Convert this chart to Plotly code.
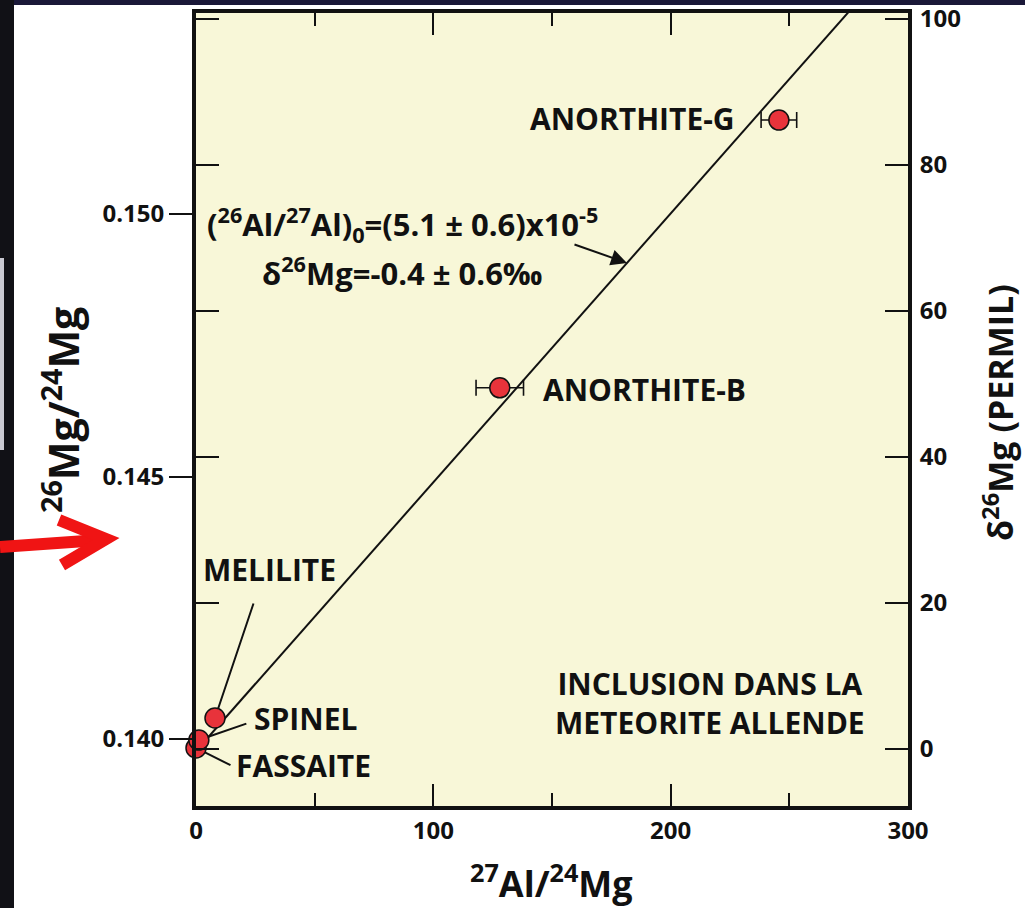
import plotly.graph_objects as go

# ---------------- data ----------------
minerals = ["FASSAITE", "SPINEL", "MELILITE", "ANORTHITE-B", "ANORTHITE-G"]
al_mg = [0.0, 1.2, 8.0, 128.0, 245.6]            # 27Al/24Mg
mg_ratio = [0.13983, 0.13998, 0.14040, 0.14669, 0.15179]  # 26Mg/24Mg
al_mg_err = [0, 0, 0, 10.0, 7.5]

fit_slope = 5.12e-5
fit_intercept = 0.13977
fit_x = [0, 300]

x_tickvals = [0, 100, 200, 300]
x_minor_ticks = [50, 150, 250]
y_tickvals = [0.140, 0.145, 0.150]
y_ticktext = ["0.140", "0.145", "0.150"]
delta_tickvals = [0, 20, 40, 60, 80, 100]

x_range = [0, 300]
y_range = [0.138724, 0.153829]
delta_range = [-7.8, 100.8]

formula_1 = "(<sup>26</sup>Al/<sup>27</sup>Al)<sub>0</sub>=(5.1 ± 0.6)x10<sup>-5</sup>"
formula_2 = "δ<sup>26</sup>Mg=-0.4 ± 0.6‰"
inclusion_text = "INCLUSION DANS LA<br>METEORITE ALLENDE"

# ---------------- geometry helpers (pixel -> paper) ----------------
W, H = 1025, 908
L, R, T, B = 196, 908, 13, 806


def px(xp):
    return (xp - L) / (R - L)


def py(yp):
    return (B - yp) / (B - T)


FONT = "Open Sans"
BLACK = "#111111"

fig = go.Figure()

# regression line
fit_y = [fit_intercept + fit_slope * v for v in fit_x]
fig.add_trace(go.Scatter(x=fit_x, y=fit_y, mode="lines",
                         line=dict(color=BLACK, width=2),
                         hoverinfo="skip", showlegend=False))

# data points
fig.add_trace(go.Scatter(
    x=al_mg, y=mg_ratio, mode="markers", text=minerals,
    marker=dict(size=20, color="#e8333b", line=dict(color=BLACK, width=1.5)),
    error_x=dict(type="data", array=al_mg_err, visible=True,
                 color=BLACK, thickness=1.6, width=8),
    cliponaxis=False, showlegend=False))

# invisible trace to hold the right axis
fig.add_trace(go.Scatter(x=[150], y=[50], yaxis="y2", mode="markers",
                         marker=dict(opacity=0), hoverinfo="skip",
                         showlegend=False))

tickfont = dict(family=FONT, size=24, color=BLACK, weight=700)

fig.update_layout(
    width=W, height=H,
    margin=dict(l=L, r=W - R, t=T, b=H - B, pad=0, autoexpand=False),
    paper_bgcolor="white",
    plot_bgcolor="#f8f7d8",
    showlegend=False,
    xaxis=dict(range=x_range, tickvals=x_tickvals,
               ticktext=[str(v) for v in x_tickvals],
               ticks="inside", ticklen=22, tickwidth=2, tickcolor=BLACK,
               minor=dict(tickvals=x_minor_ticks, ticks="inside", ticklen=13,
                          tickwidth=2, tickcolor=BLACK),
               showline=True, linewidth=4, linecolor=BLACK, mirror="ticks",
               showgrid=False, zeroline=False, tickfont=tickfont,
               ticklabelstandoff=0, automargin=False),
    yaxis=dict(range=y_range, tickvals=y_tickvals, ticktext=y_ticktext,
               ticks="outside", ticklen=23, tickwidth=2, tickcolor=BLACK,
               showline=True, linewidth=4, linecolor=BLACK, mirror=False,
               showgrid=False, zeroline=False, tickfont=tickfont,
               ticklabelstandoff=0, automargin=False),
    yaxis2=dict(range=delta_range, tickvals=delta_tickvals,
                overlaying="y", side="right",
                ticks="inside", ticklen=23, tickwidth=2, tickcolor=BLACK,
                showline=True, linewidth=4, linecolor=BLACK, mirror="ticks",
                showgrid=False, zeroline=False, tickfont=tickfont,
                ticklabelstandoff=3, automargin=False),
)

annotations = []


def label(text, x, y, xanchor="left", size=30):
    annotations.append(dict(text=text, x=x, y=y, xref="x", yref="y",
                            xanchor=xanchor, yanchor="middle", showarrow=False,
                            font=dict(family=FONT, size=size, color=BLACK,
                                      weight=700)))


def ydat(yp):
    return 0.150 - (yp - 214) / 52500.0


def xdat(xp):
    return (xp - L) * 300.0 / (R - L)


label("ANORTHITE-G", xdat(737), ydat(118), xanchor="right")
label("ANORTHITE-B", xdat(541), ydat(389))
label("MELILITE", xdat(201), ydat(569))
label("SPINEL", xdat(252), ydat(718))
label("FASSAITE", xdat(234), ydat(765))
annotations.append(dict(text=inclusion_text, x=xdat(710), y=ydat(703),
                        xref="x", yref="y", xanchor="center", yanchor="middle",
                        showarrow=False, align="center",
                        font=dict(family=FONT, size=30, color=BLACK, weight=700)))
annotations.append(dict(text=formula_1, x=xdat(402), y=ydat(224),
                        xref="x", yref="y", xanchor="center", yanchor="middle",
                        showarrow=False,
                        font=dict(family=FONT, size=31, color=BLACK, weight=700)))
annotations.append(dict(text=formula_2, x=xdat(402), y=ydat(271),
                        xref="x", yref="y", xanchor="center", yanchor="middle",
                        showarrow=False,
                        font=dict(family=FONT, size=31, color=BLACK, weight=700)))

# leader lines from labels to points
leaders = [(2, 39, -116), (1, 49, -17), (0, 36, 18)]
for idx, axp, ayp in leaders:
    annotations.append(dict(text="", x=al_mg[idx], y=mg_ratio[idx],
                            xref="x", yref="y", ax=axp, ay=ayp,
                            showarrow=True, arrowhead=0, arrowwidth=2,
                            arrowcolor=BLACK, standoff=10,
                            font=dict(size=1)))

# arrow from the formula to the fit line
arrow_x = xdat(627)
annotations.append(dict(text="", x=arrow_x, y=fit_intercept + fit_slope * arrow_x,
                        xref="x", yref="y", ax=-54, ay=-19,
                        showarrow=True, arrowhead=2, arrowsize=1.6,
                        arrowwidth=2, arrowcolor=BLACK, font=dict(size=1)))

# axis titles
annotations.append(dict(text="<sup>26</sup>Mg/<sup>24</sup>Mg",
                        x=px(61), y=py(410), xref="paper", yref="paper",
                        textangle=-90, showarrow=False,
                        xanchor="center", yanchor="middle",
                        font=dict(family=FONT, size=41, color=BLACK, weight=700)))
annotations.append(dict(text="δ<sup>26</sup>Mg (PERMIL)",
                        x=px(998), y=py(413), xref="paper", yref="paper",
                        textangle=-90, showarrow=False,
                        xanchor="center", yanchor="middle",
                        font=dict(family=FONT, size=34, color=BLACK, weight=700)))
annotations.append(dict(text="<sup>27</sup>Al/<sup>24</sup>Mg",
                        x=px(551), y=py(881), xref="paper", yref="paper",
                        showarrow=False, xanchor="center", yanchor="middle",
                        font=dict(family=FONT, size=36, color=BLACK, weight=700)))

fig.update_layout(annotations=annotations)

# dark background strips, grey patch and red arrow (outside the plot)
shapes = [
    dict(type="rect", xref="paper", yref="paper", x0=px(0), x1=px(W),
         y0=py(5), y1=py(0), fillcolor="#1a1838", line=dict(width=0),
         layer="below"),
    dict(type="rect", xref="paper", yref="paper", x0=px(0), x1=px(14),
         y0=py(H), y1=py(0), fillcolor="#111116", line=dict(width=0),
         layer="below"),
    dict(type="rect", xref="paper", yref="paper", x0=px(0), x1=px(4),
         y0=py(450), y1=py(258), fillcolor="#c9c9d2", line=dict(width=0),
         layer="below"),
    dict(type="line", xref="paper", yref="paper", x0=px(0), y0=py(547),
         x1=px(100), y1=py(540), line=dict(color="#f01414", width=12)),
    dict(type="path", xref="paper", yref="paper",
         path="M {:.5f},{:.5f} L {:.5f},{:.5f} L {:.5f},{:.5f}".format(
             px(59), py(520), px(106), py(539), px(62), py(565)),
         line=dict(color="#f01414", width=12)),
]
fig.update_layout(shapes=shapes)

fig.write_html("out.html")
